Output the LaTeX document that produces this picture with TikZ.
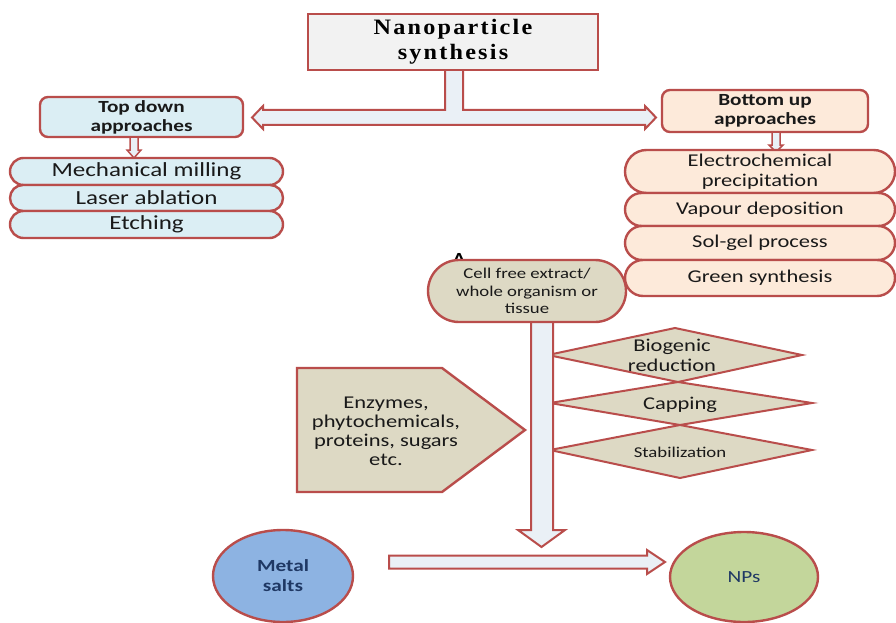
\documentclass[tikz,border=0pt]{standalone}
\usepackage{fontspec}
\setmainfont{Carlito}[FakeStretch=1.25]
\newfontfamily\titlefont{Liberation Serif}[FakeStretch=1.1,LetterSpace=10]
\usetikzlibrary{shapes.misc,shapes.geometric,calc}
\definecolor{redb}{RGB}{185,77,75}
\definecolor{titlefill}{RGB}{242,242,242}
\definecolor{bluelight}{RGB}{219,238,244}
\definecolor{peach}{RGB}{253,234,218}
\definecolor{tan}{RGB}{221,217,196}
\definecolor{arrowfill}{RGB}{234,240,246}
\definecolor{metalblue}{RGB}{141,179,226}
\definecolor{npgreen}{RGB}{195,214,155}
\definecolor{txt}{RGB}{25,25,25}
\definecolor{navy}{RGB}{31,56,100}
\begin{document}
\begin{tikzpicture}[x=1pt,y=-1pt,
  bord/.style={draw=redb, line width=2.4pt},
  barrow/.style={draw=redb, line width=2pt, fill=arrowfill, line join=miter},
  stad/.style={bord, rounded rectangle, inner sep=0pt, align=center, text=txt},
  boxr/.style={bord, rounded corners=8pt, inner sep=0pt, align=center, text=txt,
    font=\bfseries\fontsize{17}{19}\selectfont},
  dia/.style={draw=redb, line width=2pt, fill=tan, line join=miter},
  lbl/.style={align=center, text=txt, inner sep=0pt}]
\useasboundingbox (0,0) rectangle (896,623);
\fill[white] (0,0) rectangle (896,623);

% T-shaped double arrow
\draw[barrow] (445,66) -- (445,110) -- (263,110) -- (263,106) -- (252,117.5) -- (263,129) -- (263,125)
  -- (645,125) -- (645,129) -- (656,117.5) -- (645,106) -- (645,110) -- (463,110) -- (463,66) -- cycle;

% title
\node[bord, fill=titlefill, minimum width=290pt, minimum height=56pt, inner sep=0pt, align=center,
  font=\titlefont\bfseries\fontsize{22}{25}\selectfont] (title) at (453,42) {Nanoparticle\\synthesis};

% top down
\node[boxr, fill=bluelight, minimum width=203pt, minimum height=40pt] (td) at (141.5,117) {Top down\\approaches};
\draw[barrow, line width=1.5pt] (130,137) -- (130,150) -- (127,150) -- (134,158) -- (141,150) -- (138,150) -- (138,137) -- cycle;
\begin{scope}[every node/.style={stad, fill=bluelight, minimum width=273pt, font=\fontsize{20}{22}\selectfont}]
\node[minimum height=27pt] (mm) at (146.5,171.5) {Mechanical milling};
\node[minimum height=26pt] (la) at (146.5,198) {Laser ablation};
\node[minimum height=27pt] (et) at (146.5,224.5) {Etching};
\end{scope}

% bottom up
\node[boxr, fill=peach, minimum width=206pt, minimum height=42pt] (bu) at (765,111) {Bottom up\\approaches};
\draw[barrow, line width=1.5pt] (772,132) -- (772,145) -- (769,145) -- (776,152) -- (783,145) -- (780,145) -- (780,132) -- cycle;
\begin{scope}[every node/.style={stad, fill=peach, minimum width=270pt, font=\fontsize{18}{20}\selectfont}]
\node[minimum height=43pt] (ec) at (760,171.5) {Electrochemical\\precipitation};
\node[minimum height=33pt] (vd) at (760,209.5) {Vapour deposition};
\node[minimum height=34pt] (sg) at (760,243) {Sol-gel process};
\node[minimum height=36pt] (gs) at (760,278) {Green synthesis};
\end{scope}

% diamonds
\draw[dia] (548,355) -- (675,328) -- (802,355) -- (678,382) -- cycle;
\draw[dia] (550,403) -- (678,382) -- (812,403) -- (680,425) -- cycle;
\draw[dia] (550,450) -- (680,425) -- (812,450) -- (680,478) -- cycle;
\node[lbl, font=\fontsize{18}{20}\selectfont] (bio) at (672,355) {Biogenic\\reduction};
\node[lbl, font=\fontsize{18}{20}\selectfont] (cap) at (680,405) {Capping};
\node[lbl, font=\fontsize{15}{17}\selectfont] (stab) at (680,452) {Stabilization};

% vertical block arrow
\draw[barrow] (531,318) -- (531,530) -- (518,530) -- (541.5,547) -- (565,530) -- (553,530) -- (553,318) -- cycle;

% A label and cell stadium
\node[font=\bfseries\fontsize{17}{17}\selectfont, text=black, inner sep=0pt] (A) at (459,259) {A};
\node[stad, fill=tan, minimum width=198pt, minimum height=62pt, font=\fontsize{15}{17.5}\selectfont] (cell) at (527,291)
  {Cell free extract/\\whole organism or\\tissue};

% pentagon
\draw[dia, line width=2.4pt] (297,368) -- (442,368) -- (525,430) -- (442,492) -- (297,492) -- cycle;
\node[lbl, font=\fontsize{18}{19}\selectfont] (enz) at (386,431) {Enzymes,\\phytochemicals,\\proteins, sugars\\etc.};

% ellipses
\node[ellipse, bord, fill=metalblue, minimum width=140pt, minimum height=92pt, inner sep=0pt, align=center,
  text=navy, font=\bfseries\fontsize{17}{20}\selectfont] (ms) at (283,576) {Metal\\salts};
\node[ellipse, bord, fill=npgreen, minimum width=148pt, minimum height=90pt, inner sep=0pt, align=center,
  text=navy, font=\fontsize{17}{20}\selectfont] (np) at (744,577) {NPs};

% horizontal arrow
\draw[barrow] (389,555.5) -- (647,555.5) -- (647,550) -- (665,562) -- (647,574) -- (647,568.5) -- (389,568.5) -- cycle;
\end{tikzpicture}
\end{document}
